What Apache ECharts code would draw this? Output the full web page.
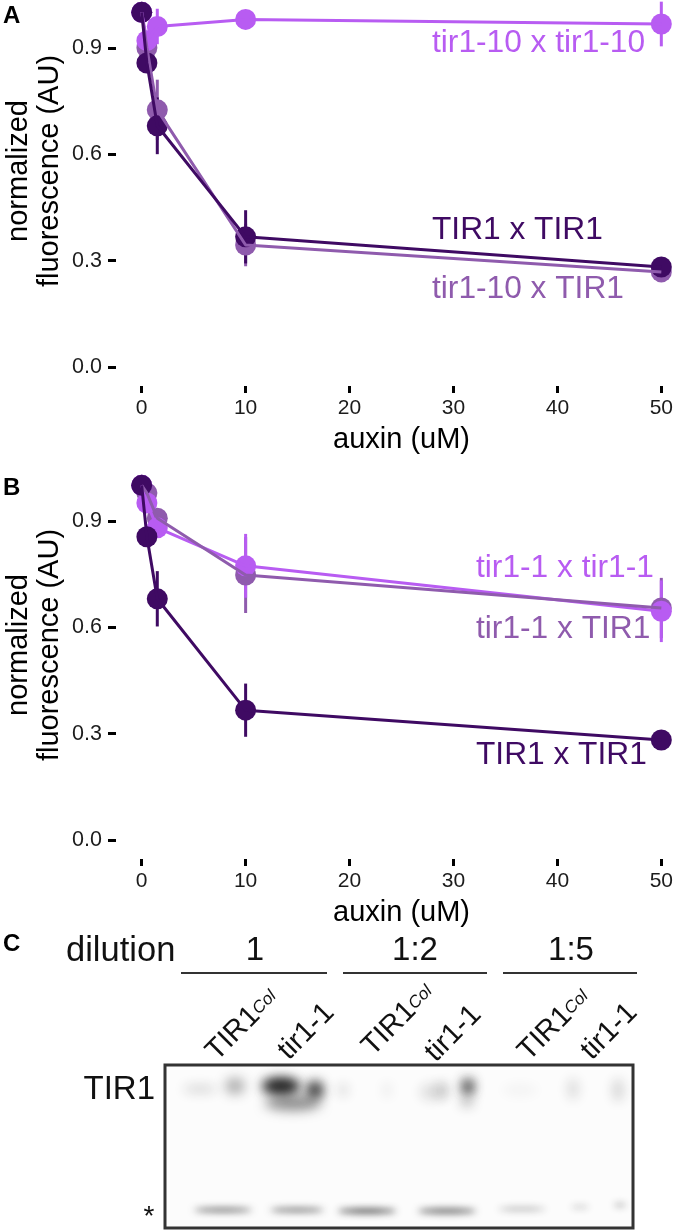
<!DOCTYPE html>
<html><head><meta charset="utf-8">
<style>html,body{margin:0;padding:0;background:#fff}#c{width:676px;height:1232px}</style>
<script src="https://cdn.jsdelivr.net/npm/echarts@6/dist/echarts.min.js"></script>
</head><body><div id="c"></div>
<script>
const doses = [0, 0.5, 1.5, 10, 50];
const yTicks = [0, 0.3, 0.6, 0.9];

// Panel A values and error half-widths
const aTIR1 = [1.0, 0.857, 0.68, 0.367, 0.282];
const aTIR1Err = [0, 0.012, 0.08, 0.075, 0.012];
const aMixed10 = [1.0, 0.90, 0.725, 0.344, 0.268];
const aMixed10Err = [0, 0.012, 0.085, 0.06, 0.012];
const aTir10 = [1.0, 0.92, 0.96, 0.98, 0.967];
const aTir10Err = [0, 0.012, 0.05, 0.012, 0.063];

// Panel B values and error half-widths
const bTIR1 = [1.0, 0.855, 0.68, 0.366, 0.282];
const bTIR1Err = [0, 0.012, 0.078, 0.075, 0.012];
const bMixed1 = [1.0, 0.978, 0.907, 0.747, 0.654];
const bMixed1Err = [0, 0.012, 0.02, 0.107, 0.085];
const bTir1 = [1.0, 0.95, 0.88, 0.773, 0.645];
const bTir1Err = [0, 0.012, 0.02, 0.09, 0.087];

// Blot bands in gel units: centre x, centre y, width, height, darkness
const upperBands = [
  [35,24,34,7,.2],[70,21,20,17,.34],[116,21,38,15,1],[116,21,30,11,.6],[150,25,16,17,.85],[150,24,12,10,.45],[128,38,56,15,.5],
  [178,25,10,12,.16],[222,25,8,16,.08],[268,27,26,17,.14],[278,25,9,16,.24],[303,22,11,15,.9],[303,20,7,8,.6],
  [302,37,11,8,.42],[355,25,36,12,.04],[408,24,10,21,.17],[453,25,10,23,.2]
];
const lowerBands = [
  [58,145,58,4,.7],[132,145,54,4,.68],[202,146,58,4.5,.85],[282,146,58,5,.7],
  [357,144,48,3,.42],[415,142,18,2.5,.32],[455,140,12,3.5,.38]
];
const brackets = [[16,162],[178,322],[338,472]];
const bracketY = -92;

const dark = '#3f0a63', mid = '#8f5bad', light = '#b85cf2', ink = '#1c1c1c';
const font = '"Liberation Sans", Arial, sans-serif';

const panelLabels = [['A',3,16],['B',3,488],['C',3,944]];
const seriesLabels = [
  ['tir1-10 x tir1-10',432,43,light],['TIR1 x TIR1',432,230,dark],['tir1-10 x TIR1',432,289,mid],
  ['tir1-1 x tir1-1',476,568,light],['tir1-1 x TIR1',476,629,mid],['TIR1 x TIR1',476,755,dark]
];
const yTitle = ['normalized','fluorescence (AU)'];
const xTitle = 'auxin (uM)';
const dilutions = [['1',255],['1:2',415],['1:5',571]];
const lanes = [
  ['TIR1',1,223,1068],['tir1-1',0,295,1067],['TIR1',1,379,1063],
  ['tir1-1',0,442,1069],['TIR1',1,535,1068],['tir1-1',0,598,1067]
];

function makeGrid(top){return {left:141.7,width:520,top:top,height:354.7,containLabel:false};}
function makeX(i){return {gridIndex:i,type:'value',min:0,max:50,interval:10,offset:19,
  splitLine:{show:false},axisLine:{show:false,onZero:false},
  axisTick:{length:7,lineStyle:{color:'#000',width:3}},
  axisLabel:{margin:12,fontFamily:font,fontSize:21,color:ink},
  name:xTitle,nameLocation:'middle',nameGap:39,nameTextStyle:{fontFamily:font,fontSize:29,color:'#000'}};}
function makeY(i){return {gridIndex:i,type:'value',min:0,max:1,offset:25.7,
  splitLine:{show:false},axisLine:{show:false,onZero:false},
  axisTick:{length:8,customValues:yTicks,lineStyle:{color:'#000',width:3}},
  axisLabel:{margin:14,customValues:yTicks,formatter:v=>v.toFixed(1),fontFamily:font,fontSize:21.5,color:ink}};}

function errSeries(i,vals,errs,color){
  return {type:'custom',xAxisIndex:i,yAxisIndex:i,clip:false,z:2,silent:true,
    data:doses.map((d,k)=>[d,vals[k]-errs[k],vals[k]+errs[k]]),
    encode:{x:0,y:[1,2]},
    renderItem(p,api){
      const a=api.coord([api.value(0),api.value(1)]),b=api.coord([api.value(0),api.value(2)]);
      return {type:'line',shape:{x1:a[0],y1:a[1],x2:b[0],y2:b[1]},style:{stroke:color,lineWidth:3}};
    }};
}
function ptSeries(i,vals,color,z){
  return {type:'scatter',xAxisIndex:i,yAxisIndex:i,clip:false,z:z,symbolSize:21,silent:true,
    itemStyle:{color:color,opacity:1},data:doses.map((d,k)=>[d,vals[k]])};
}
function lineSeries(i,vals,color,z){
  return {type:'line',xAxisIndex:i,yAxisIndex:i,clip:false,z:z,symbol:'none',silent:true,
    lineStyle:{color:color,width:3},data:doses.map((d,k)=>[d,vals[k]])};
}
function panel(i,sets){ // sets order: mid, light, dark
  const out=[];
  sets.forEach(s=>out.push(errSeries(i,s[0],s[1],s[2])));
  sets.forEach((s,k)=>out.push(ptSeries(i,s[0],s[2],3+k)));
  [sets[1],sets[0],sets[2]].forEach((s,k)=>out.push(lineSeries(i,s[0],s[2],7+k)));
  return out;
}
function bandSeries(bands,blur){
  return {type:'custom',xAxisIndex:2,yAxisIndex:2,clip:false,z:3,silent:true,data:bands,
    encode:{x:0,y:1},
    renderItem(p,api){
      const c=api.coord([api.value(0),api.value(1)]);
      const far=3000;
      return {type:'ellipse',shape:{cx:c[0]-far,cy:c[1],rx:api.value(2)/2,ry:api.value(3)/2},
        style:{fill:'#000',shadowColor:'rgba(30,30,30,'+api.value(4)+')',shadowBlur:blur,shadowOffsetX:far}};
    }};
}

const graphic = [];
panelLabels.forEach(l=>graphic.push({type:'text',x:l[1],y:l[2],
  style:{text:l[0],font:'bold 24px '+font,fill:'#000',textAlign:'left',textVerticalAlign:'middle'}}));
seriesLabels.forEach(l=>graphic.push({type:'text',x:l[1],y:l[2],z:20,
  style:{text:l[0],font:'31.7px '+font,fill:l[3],textAlign:'left',textVerticalAlign:'middle'}}));
[[171],[645]].forEach(p=>{
  [[yTitle[0],19],[yTitle[1],50]].forEach(t=>graphic.push({type:'text',x:t[1],y:p[0],rotation:Math.PI/2,
    style:{text:t[0],font:'29px '+font,fill:'#000',textAlign:'center',textVerticalAlign:'middle'}}));
});
graphic.push({type:'text',x:66,y:951,style:{text:'dilution',font:'34.5px '+font,fill:'#111',textAlign:'left',textVerticalAlign:'middle'}});
dilutions.forEach(d=>graphic.push({type:'text',x:d[1],y:951,style:{text:d[0],font:'33px '+font,fill:'#111',textAlign:'center',textVerticalAlign:'middle'}}));
lanes.forEach(l=>graphic.push({type:'text',x:l[2],y:l[3],rotation:Math.PI/4,
  style:{text:l[1]?'{m|'+l[0]+'}{s|Col}':'{m|'+l[0]+'}',textAlign:'left',textVerticalAlign:'bottom',
    rich:{m:{font:'29px '+font,fill:'#111',height:34,verticalAlign:'bottom'},s:{font:'italic 17px '+font,fill:'#111',height:34,verticalAlign:'top'}}}}));
graphic.push({type:'text',x:155,y:1090,style:{text:'TIR1',font:'33px '+font,fill:'#111',textAlign:'right',textVerticalAlign:'middle'}});
graphic.push({type:'text',x:149,y:1217,style:{text:'*',font:'28px '+font,fill:'#111',textAlign:'center',textVerticalAlign:'middle'}});

const option = {
  animation:false,backgroundColor:'#fff',
  grid:[makeGrid(12.3),makeGrid(485.3),
    {left:165,top:1065,width:468,height:163,show:true,backgroundColor:'#fcfcfc',borderColor:'#333',borderWidth:3}],
  xAxis:[makeX(0),makeX(1),{gridIndex:2,type:'value',min:0,max:468,show:false}],
  yAxis:[makeY(0),makeY(1),{gridIndex:2,type:'value',min:0,max:163,inverse:true,show:false}],
  series:[
    ...panel(0,[[aMixed10,aMixed10Err,mid],[aTir10,aTir10Err,light],[aTIR1,aTIR1Err,dark]]),
    ...panel(1,[[bMixed1,bMixed1Err,mid],[bTir1,bTir1Err,light],[bTIR1,bTIR1Err,dark]]),
    bandSeries(upperBands,12),
    bandSeries(lowerBands,7),
    {type:'custom',xAxisIndex:2,yAxisIndex:2,clip:false,silent:true,data:brackets,encode:{x:[0,1]},
      renderItem(p,api){
        const a=api.coord([api.value(0),bracketY]),b=api.coord([api.value(1),bracketY]);
        return {type:'line',shape:{x1:a[0],y1:a[1],x2:b[0],y2:b[1]},style:{stroke:'#333',lineWidth:2}};
      }}
  ],
  graphic:graphic
};
echarts.init(document.getElementById('c'),null,{renderer:'canvas'}).setOption(option);
</script></body></html>
